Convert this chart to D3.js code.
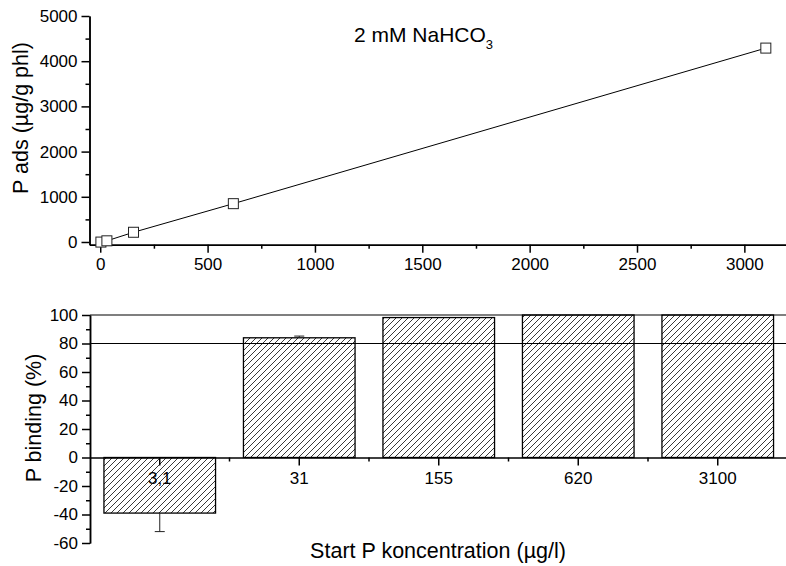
<!DOCTYPE html>
<html>
<head>
<meta charset="utf-8">
<script src="https://cdn.jsdelivr.net/npm/d3@7"></script>
<style>
  body { margin: 0; background: #fff; }
  svg { display: block; font-family: Arial, "Liberation Sans", sans-serif; }
  .axis path, .axis line { stroke: #000; stroke-width: 1.5; }
  .axis text { font-size: 17px; fill: #000; }
</style>
</head>
<body>
<svg id="chart" width="786" height="566"></svg>
<script>
// Data
var startConc = [3.1, 31, 155, 620, 3100]
var pAds = [-2, 26, 215, 848, 4290]
var concLabels = ["3,1", "31", "155", "620", "3100"]
var pBinding = [-39, 84, 98.2, 100, 100]
var pBindingErr = [13, 1.2, 0, 0, 0]
var refLines = [80, 100]

var svg = d3.select("#chart")
var plain = function (d) { return String(d) }   // no thousands comma, ascii minus

// ---------- top panel: adsorption vs concentration ----------
var xTop = d3.scaleLinear().domain([-50, 3200]).range([89.5, 787.3])
var yTop = d3.scaleLinear().domain([-60, 5000]).range([244.7, 16])

var adsPanel = svg.append("g")

// minor ticks first, then major
adsPanel.append("g")
  .attr("class", "axis")
  .attr("transform", "translate(0," + yTop(-60) + ")")
  .call(d3.axisBottom(xTop).tickValues(d3.range(250, 3200, 500)).tickSize(4).tickSizeOuter(0).tickFormat(""))
adsPanel.append("g")
  .attr("class", "axis")
  .attr("transform", "translate(0," + yTop(-60) + ")")
  .call(d3.axisBottom(xTop).tickValues(d3.range(0, 3001, 500)).tickSize(8).tickSizeOuter(0).tickPadding(5).tickFormat(plain))

adsPanel.append("g")
  .attr("class", "axis")
  .attr("transform", "translate(" + xTop(-50) + ",0)")
  .call(d3.axisLeft(yTop).tickValues(d3.range(500, 5000, 1000)).tickSize(4).tickSizeOuter(0).tickFormat(""))
adsPanel.append("g")
  .attr("class", "axis")
  .attr("transform", "translate(" + xTop(-50) + ",0)")
  .call(d3.axisLeft(yTop).tickValues(d3.range(0, 5001, 1000)).tickSize(8).tickSizeOuter(0).tickPadding(4).tickFormat(plain))

var pts = startConc.map(function (c, i) { return [c, pAds[i]] })

adsPanel.append("path")
  .datum(pts)
  .attr("fill", "none")
  .attr("stroke", "#000")
  .attr("stroke-width", 1)
  .attr("d", d3.line().x(function (d) { return xTop(d[0]) }).y(function (d) { return yTop(d[1]) }))

adsPanel.selectAll(".mark")
  .data(pts)
  .enter()
  .append("rect")
  .attr("class", "mark")
  .attr("x", function (d) { return xTop(d[0]) - 5 })
  .attr("y", function (d) { return yTop(d[1]) - 5 })
  .attr("width", 10)
  .attr("height", 10)
  .attr("fill", "#fff")
  .attr("stroke", "#222")
  .attr("stroke-width", 1)

var ttl = adsPanel.append("text")
  .attr("x", 354)
  .attr("y", 42)
  .style("font-size", "21px")
  .text("2 mM NaHCO")
ttl.append("tspan")
  .attr("dy", 7)
  .style("font-size", "13px")
  .text("3")

adsPanel.append("text")
  .attr("transform", "translate(28,118) rotate(-90)")
  .attr("text-anchor", "middle")
  .style("font-size", "21.5px")
  .text("P ads (µg/g phl)")

// ---------- bottom panel: binding per start concentration ----------
var xBot = d3.scaleBand().domain(concLabels).range([90, 787.5]).padding(0)
var yBot = d3.scaleLinear().domain([-60, 100]).range([543, 315])
var barW = xBot.bandwidth() * 0.8

var defs = svg.append("defs")
defs.append("pattern")
  .attr("id", "hatch")
  .attr("patternUnits", "userSpaceOnUse")
  .attr("width", 6)
  .attr("height", 6)
  .append("path")
  .attr("d", "M0,6 L6,0 M-1,1 L1,-1 M5,7 L7,5")
  .attr("stroke", "#222")
  .attr("stroke-width", 0.9)

var binPanel = svg.append("g")

binPanel.selectAll(".bar")
  .data(concLabels)
  .enter()
  .append("rect")
  .attr("class", "bar")
  .attr("x", function (d) { return xBot(d) + (xBot.bandwidth() - barW) / 2 })
  .attr("y", function (d, i) { return yBot(Math.max(0, pBinding[i])) })
  .attr("width", barW)
  .attr("height", function (d, i) { return Math.abs(yBot(pBinding[i]) - yBot(0)) })
  .attr("fill", "url(#hatch)")
  .attr("stroke", "#000")
  .attr("stroke-width", 1.3)

// error bars, drawn only outward from the bar end
binPanel.selectAll(".err")
  .data(concLabels.filter(function (d, i) { return pBindingErr[i] > 0 }))
  .enter()
  .append("path")
  .attr("class", "err")
  .attr("fill", "none")
  .attr("stroke", "#222")
  .attr("stroke-width", 1)
  .attr("d", function (d) {
    var i = concLabels.indexOf(d)
    var cx = xBot(d) + xBot.bandwidth() / 2
    var v = pBinding[i]
    var e = v < 0 ? v - pBindingErr[i] : v + pBindingErr[i]
    return "M" + cx + "," + yBot(v) + "V" + yBot(e) + "M" + (cx - 5) + "," + yBot(e) + "H" + (cx + 5)
  })

// reference lines at 80 and 100 across the panel
binPanel.selectAll(".ref")
  .data(refLines)
  .enter()
  .append("line")
  .attr("class", "ref")
  .attr("x1", 90)
  .attr("x2", 786)
  .attr("y1", function (d) { return yBot(d) })
  .attr("y2", function (d) { return yBot(d) })
  .attr("stroke", "#000")
  .attr("stroke-width", 1.2)

// x axis at zero, ticks at categories and minor ticks at the boundaries
var bounds = concLabels.slice(1).map(function (d) { return xBot(d) })
binPanel.append("g")
  .attr("class", "axis")
  .selectAll("line")
  .data(bounds)
  .enter()
  .append("line")
  .attr("x1", function (d) { return d })
  .attr("x2", function (d) { return d })
  .attr("y1", yBot(0))
  .attr("y2", yBot(0) + 4)
binPanel.append("g")
  .attr("class", "axis")
  .attr("transform", "translate(0," + yBot(0) + ")")
  .call(d3.axisBottom(xBot).tickSize(8).tickSizeOuter(0).tickPadding(6))

binPanel.append("g")
  .attr("class", "axis")
  .attr("transform", "translate(90,0)")
  .call(d3.axisLeft(yBot).tickValues(d3.range(-50, 100, 20)).tickSize(4).tickSizeOuter(0).tickFormat(""))
binPanel.append("g")
  .attr("class", "axis")
  .attr("transform", "translate(90,0)")
  .call(d3.axisLeft(yBot).tickValues(d3.range(-60, 101, 20)).tickSize(8).tickSizeOuter(0).tickPadding(4).tickFormat(plain))

binPanel.append("text")
  .attr("transform", "translate(41,418) rotate(-90)")
  .attr("text-anchor", "middle")
  .style("font-size", "21.5px")
  .text("P binding (%)")

binPanel.append("text")
  .attr("x", 438)
  .attr("y", 558)
  .attr("text-anchor", "middle")
  .style("font-size", "21.5px")
  .text("Start P koncentration (µg/l)")
</script>
</body>
</html>
